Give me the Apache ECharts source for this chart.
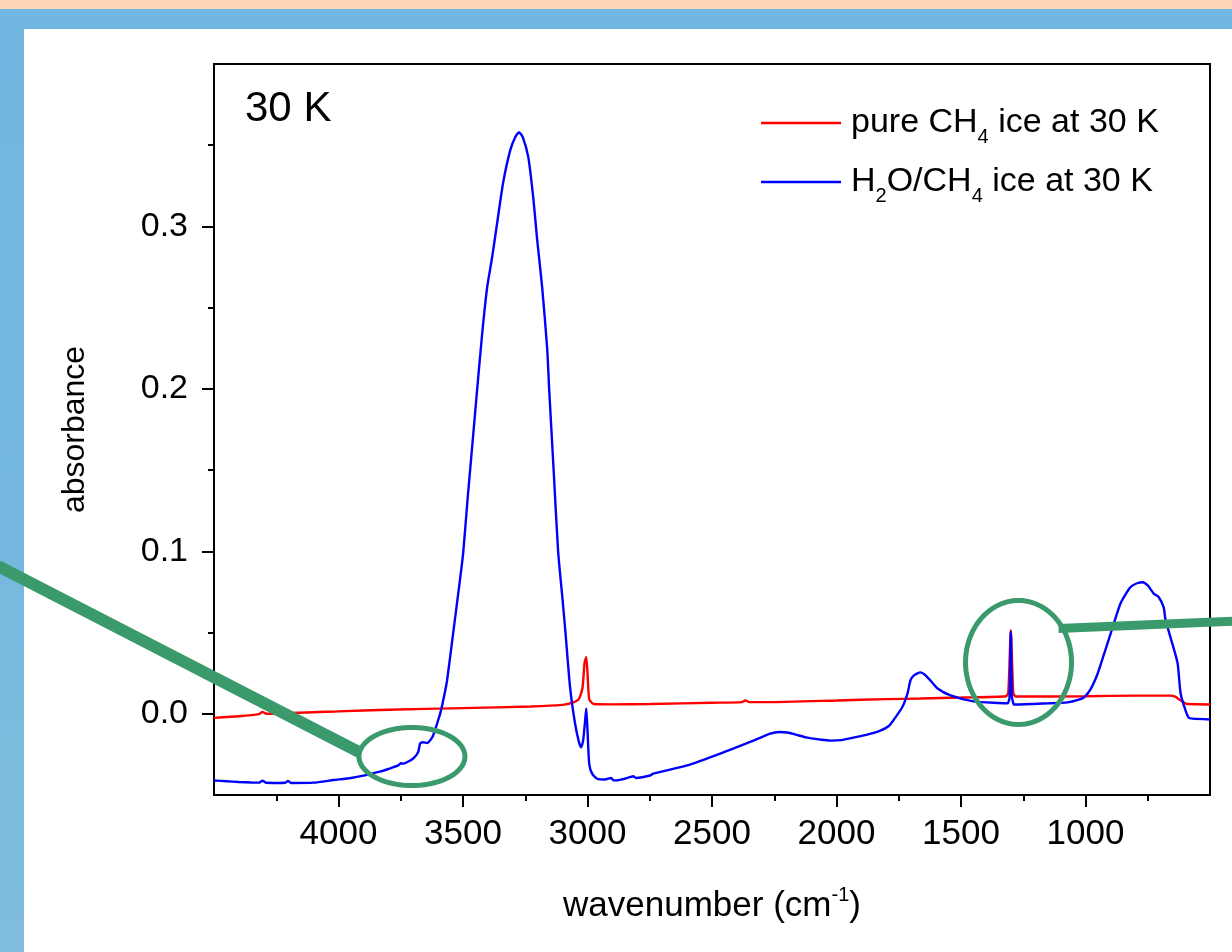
<!DOCTYPE html>
<html>
<head>
<meta charset="utf-8">
<script src="https://cdn.jsdelivr.net/npm/echarts@6/dist/echarts.min.js"></script>
<style>
html,body{margin:0;padding:0;width:1232px;height:952px;overflow:hidden;}
#bg{position:absolute;left:0;top:0;width:1232px;height:952px;background:linear-gradient(to bottom,#72b7e1 0%,#74b8e0 50%,#80bddc 100%);}
#peach{position:absolute;left:0;top:0;width:1232px;height:9px;background:#fdd5b5;}
#panel{position:absolute;left:24px;top:29px;width:1208px;height:923px;background:#ffffff;}
#chart{position:absolute;left:0;top:0;width:1232px;height:952px;}
</style>
</head>
<body>
<div id="bg"></div><div id="peach"></div><div id="panel"></div>
<div id="chart"></div>
<script>
// ---- data (wavenumber in cm^-1, absorbance) ----
const pureName = 'pure CH4 ice at 30 K';
const mixName = 'H2O/CH4 ice at 30 K';

const wnPure = [4500,4400,4320,4305,4290,4210,4203,4195,4000,3800,3500,3228,3100,3060,3035,3020,3012,3005,3000,2993,2975,2900,2748,2500,2380,2366,2350,2278,2000,1800,1663,1500,1320,1310,1300,1290,1280,1000,800,660,640,620,600,590,500];
const absPure = [-0.0025,-0.0015,-0.0002,0.0012,0.0,0.0005,0.0015,0.0005,0.0015,0.0025,0.0035,0.0045,0.0055,0.0068,0.009,0.016,0.031,0.035,0.025,0.009,0.006,0.0058,0.006,0.0068,0.0072,0.0082,0.0072,0.0072,0.0082,0.009,0.0094,0.0100,0.0108,0.013,0.0515,0.013,0.0106,0.0108,0.0112,0.0112,0.0105,0.0085,0.0065,0.006,0.0057];

const wnMix = [4500,4450,4400,4350,4320,4305,4290,4250,4215,4203,4190,4100,4020,3950,3900,3850,3830,3800,3760,3750,3740,3700,3680,3672,3660,3644,3630,3620,3600,3590,3575,3564,3540,3520,3500,3480,3460,3443,3423,3403,3383,3363,3339,3311,3290,3275,3260,3238,3218,3202,3182,3162,3154,3136,3118,3100,3089,3070,3050,3035,3026,3018,3010,3005,3000,2993,2981,2961,2930,2905,2895,2881,2850,2816,2805,2748,2736,2600,2467,2334,2266,2230,2197,2160,2117,2060,2025,1980,1932,1880,1824,1790,1772,1736,1715,1703,1690,1663,1645,1623,1594,1542,1450,1350,1313,1305,1300,1295,1288,1281,1152,1072,1030,1006,980,951,925,899,859,819,790,771,750,726,707,686,679,651,630,618,598,585,570,500];
const absMix = [-0.0411,-0.0415,-0.042,-0.0423,-0.0424,-0.0412,-0.0425,-0.0426,-0.0425,-0.0413,-0.0426,-0.0424,-0.0408,-0.0395,-0.0381,-0.0362,-0.0355,-0.034,-0.0318,-0.0305,-0.0307,-0.0275,-0.0235,-0.0182,-0.0175,-0.018,-0.016,-0.0134,-0.0041,0.001,0.0115,0.0205,0.049,0.073,0.098,0.135,0.17,0.2,0.234,0.2625,0.281,0.302,0.3267,0.3465,0.355,0.358,0.355,0.3428,0.318,0.2916,0.2625,0.225,0.2,0.15,0.1,0.07,0.051,0.0163,-0.006,-0.017,-0.0206,-0.017,-0.005,0.0033,-0.01,-0.031,-0.037,-0.04,-0.0405,-0.0395,-0.041,-0.041,-0.04,-0.0385,-0.0395,-0.038,-0.0368,-0.0318,-0.0245,-0.0165,-0.0122,-0.0112,-0.0115,-0.013,-0.0147,-0.016,-0.0165,-0.0162,-0.0147,-0.013,-0.0104,-0.0075,-0.0041,0.004,0.0124,0.0205,0.0235,0.0255,0.024,0.0205,0.0156,0.0113,0.0076,0.0066,0.0064,0.01,0.0505,0.01,0.0058,0.0057,0.0064,0.007,0.0085,0.0101,0.015,0.0248,0.037,0.0494,0.068,0.078,0.0805,0.081,0.079,0.074,0.072,0.0655,0.058,0.043,0.031,0.0125,0.002,-0.0025,-0.003,-0.0035];

// axis ticks
const xMajor = [4000,3500,3000,2500,2000,1500,1000];
const yMajor = [0,0.1,0.2,0.3];
const yMinor = [0.05,0.15,0.25,0.35];

// annotation anchors (data coordinates)
const ann1 = [3705, -0.0263];
const ann2 = [1269, 0.0316];

const FONT = '"Liberation Sans", Arial, Helvetica, sans-serif';
const chart = echarts.init(document.getElementById('chart'), null, {renderer:'canvas'});
const gridRect = {left:214, top:64, right:22, bottom:157};

const legendRich = {
  p:{fontSize:34, fontFamily:FONT, color:'#000', padding:[0,0,0,5]},
  n:{fontSize:34, fontFamily:FONT, color:'#000'},
  s:{fontSize:20, fontFamily:FONT, color:'#000', lineHeight:20, padding:[28,0,0,0]}
};
const legendText = {};
legendText[pureName] = '{p|pure CH}{s|4}{n| ice at 30 K}';
legendText[mixName] = '{p|H}{s|2}{n|O/CH}{s|4}{n| ice at 30 K}';

const option = {
  animation:false,
  backgroundColor:'transparent',
  grid:[
    Object.assign({show:true, borderColor:'#000', borderWidth:2, backgroundColor:'transparent'}, gridRect),
    Object.assign({show:false}, gridRect)
  ],
  xAxis:[{
    type:'value', gridIndex:0, min:500, max:4500, interval:500, inverse:true,
    axisLine:{show:true, onZero:false, lineStyle:{color:'#000', width:2}},
    axisTick:{show:true, inside:false, length:12, customValues:xMajor, lineStyle:{color:'#000', width:2}},
    minorTick:{show:true, splitNumber:2, length:6, lineStyle:{color:'#000', width:2}},
    axisLabel:{customValues:xMajor, margin:22, fontSize:35, fontFamily:FONT, color:'#000', formatter:v=>String(v)},
    splitLine:{show:false}, minorSplitLine:{show:false},
    name:'{a|wavenumber (cm}{u|-1}{a|)}', nameLocation:'middle', nameGap:94,
    nameTextStyle:{rich:{
      a:{fontSize:35, fontFamily:FONT, color:'#000'},
      u:{fontSize:20, fontFamily:FONT, color:'#000', lineHeight:20, padding:[0,0,22,0]}
    }}
  },{
    type:'value', gridIndex:1, min:500, max:4500, inverse:true, show:false
  }],
  yAxis:[{
    type:'value', gridIndex:0, min:-0.05, max:0.4, interval:0.05,
    axisLine:{show:true, onZero:false, lineStyle:{color:'#000', width:2}},
    axisTick:{show:true, inside:false, length:12, customValues:yMajor, lineStyle:{color:'#000', width:2}},
    axisLabel:{customValues:yMajor, margin:26, fontSize:34, fontFamily:FONT, color:'#000', formatter:v=>v.toFixed(1)},
    splitLine:{show:false},
    name:'absorbance', nameLocation:'middle', nameRotate:90, nameGap:123,
    nameTextStyle:{fontSize:32, fontFamily:FONT, color:'#000'}
  },{
    type:'value', gridIndex:1, min:-0.05, max:0.4, interval:0.05,
    axisLine:{show:false},
    axisTick:{show:true, inside:false, length:6, customValues:yMinor, lineStyle:{color:'#000', width:2}},
    axisLabel:{show:false}, splitLine:{show:false}
  }],
  legend:{
    orient:'vertical', left:761, top:99, padding:0, itemGap:11,
    itemWidth:80, itemHeight:2.5, icon:'rect',
    data:[pureName, mixName],
    formatter:name=>legendText[name],
    textStyle:{rich:legendRich}
  },
  series:[{
    name:pureName, type:'line', xAxisIndex:0, yAxisIndex:0,
    data:wnPure.map((w,i)=>[w, absPure[i]]),
    symbol:'none', smooth:0.2, lineStyle:{color:'#ff0000', width:2.4}, itemStyle:{color:'#ff0000'}, z:2
  },{
    name:mixName, type:'line', xAxisIndex:0, yAxisIndex:0,
    data:wnMix.map((w,i)=>[w, absMix[i]]),
    symbol:'none', smooth:0.2, lineStyle:{color:'#0000ff', width:2.4}, itemStyle:{color:'#0000ff'}, z:3
  }]
};
chart.setOption(option);

function ellipsePts(cx, cy, rx, ry){
  const pts = [];
  for (let k = 0; k < 96; k++){
    const t = k / 96 * Math.PI * 2;
    pts.push([cx + rx*Math.cos(t), cy + ry*Math.sin(t)]);
  }
  return pts;
}
const p1 = chart.convertToPixel({gridIndex:0}, ann1);
const p2 = chart.convertToPixel({gridIndex:0}, ann2);
const green = '#3a9a6c';
chart.setOption({
  graphic:[
    {type:'text', left:245, top:88, z:100, style:{text:'30 K', fontSize:42, fontFamily:FONT, fill:'#000'}},
    {type:'line', z:100, shape:{x1:-2, y1:566, x2:p1[0]-52, y2:p1[1]-4}, style:{stroke:green, lineWidth:12}},
    {type:'polygon', z:100, shape:{points:ellipsePts(p1[0], p1[1], 53, 29)}, style:{fill:'none', stroke:green, lineWidth:5}},
    {type:'line', z:100, shape:{x1:p2[0]+40, y1:p2[1]-34, x2:1240, y2:621}, style:{stroke:green, lineWidth:9}},
    {type:'polygon', z:100, shape:{points:ellipsePts(p2[0], p2[1], 53, 62)}, style:{fill:'none', stroke:green, lineWidth:5}}
  ]
});
</script>
</body>
</html>
